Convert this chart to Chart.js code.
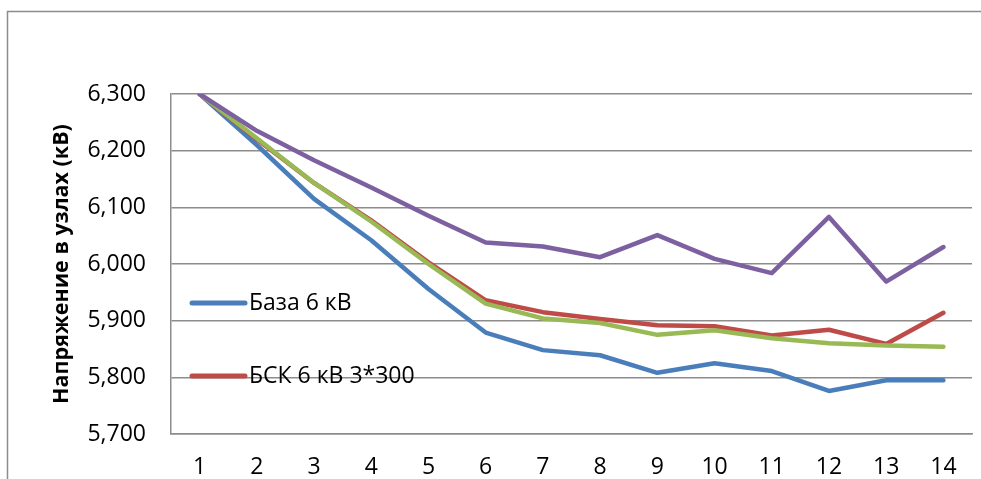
<!DOCTYPE html>
<html>
<head>
<meta charset="utf-8">
<script src="https://cdn.jsdelivr.net/npm/chart.js@4"></script>
<style>
  html, body { margin: 0; padding: 0; background: #fff; }
  #wrap { width: 981px; height: 479px; position: relative; }
</style>
</head>
<body>
<div id="wrap"><canvas id="chart"></canvas></div>
<script>
const nodes = ['1', '2', '3', '4', '5', '6', '7', '8', '9', '10', '11', '12', '13', '14'];

const baseVals = [6300, 6210, 6115, 6042, 5956, 5879, 5848, 5839, 5808, 5825, 5811, 5776, 5795, 5795];
const bskVals = [6300, 6220, 6143, 6077, 6003, 5936, 5915, 5903, 5892, 5890, 5874, 5884, 5859, 5914];
const greenVals = [6300, 6222, 6143, 6075, 6000, 5930, 5904, 5896, 5875, 5883, 5869, 5860, 5856, 5854];
const purpleVals = [6300, 6235, 6183, 6135, 6085, 6038, 6031, 6012, 6051, 6009, 5984, 6083, 5969, 6030];

const seriesLabels = ['База 6 кВ', 'БСК 6 кВ 3*300', 'Серия 3', 'Серия 4'];
const seriesColors = ['#4a7ebb', '#be4b48', '#98b954', '#7d60a0'];

const yTitle = 'Напряжение в узлах (кВ)';
const fontFamily = '"Open Sans", "DejaVu Sans", sans-serif';

// frame around the whole chart (cut off at right and bottom in the picture)
const framePlugin = {
  id: 'frame',
  beforeDraw(chart) {
    const ctx = chart.ctx;
    ctx.save();
    ctx.strokeStyle = '#8c8c8c';
    ctx.lineWidth = 1.5;
    ctx.beginPath();
    ctx.moveTo(7.5, chart.height + 2);
    ctx.lineTo(7.5, 11.5);
    ctx.lineTo(chart.width + 2, 11.5);
    ctx.stroke();
    ctx.restore();
  }
};

// legend sits inside the plot, only the first two entries are visible
const legendPlugin = {
  id: 'innerLegend',
  afterDraw(chart) {
    const ctx = chart.ctx;
    const rows = [303, 376];
    ctx.save();
    ctx.font = '23px ' + fontFamily;
    ctx.textBaseline = 'middle';
    rows.forEach((y, i) => {
      const ds = chart.data.datasets[i];
      ctx.strokeStyle = ds.borderColor;
      ctx.lineWidth = 5;
      ctx.lineCap = 'round';
      ctx.beginPath();
      ctx.moveTo(192, y);
      ctx.lineTo(245, y);
      ctx.stroke();
      ctx.fillStyle = '#000';
      ctx.fillText(ds.label, 249, y);
    });
    ctx.restore();
  }
};

const allVals = [baseVals, bskVals, greenVals, purpleVals];

new Chart(document.getElementById('chart'), {
  type: 'line',
  data: {
    labels: nodes,
    datasets: allVals.map((d, i) => ({
      label: seriesLabels[i],
      data: d,
      borderColor: seriesColors[i],
      backgroundColor: seriesColors[i],
      borderWidth: 4.5,
      pointRadius: 0,
      tension: 0,
      fill: false,
      borderCapStyle: 'round',
      borderJoinStyle: 'round',
      order: 4 - i,
    })),
  },
  options: {
    responsive: true,
    maintainAspectRatio: false,
    animation: false,
    layout: { padding: { top: 94, right: 9, left: 0, bottom: 0 } },
    plugins: {
      legend: { display: false },
      tooltip: { enabled: false },
    },
    scales: {
      x: {
        offset: true,
        grid: { display: false, drawTicks: false, offset: true },
        border: { display: true, color: '#8c8c8c', width: 1.5 },
        ticks: {
          color: '#000',
          font: { family: fontFamily, size: 23 },
          padding: 20,
          maxRotation: 0,
        },
        afterFit(scale) { scale.height = 45; },
      },
      y: {
        min: 5700,
        max: 6300,
        grid: { color: '#8c8c8c', lineWidth: 1.5, drawTicks: false },
        border: { display: true, color: '#8c8c8c', width: 1.5 },
        ticks: {
          stepSize: 100,
          color: '#000',
          font: { family: fontFamily, size: 23 },
          padding: 25,
          callback: (v) => v.toLocaleString('en-US'),
        },
        title: {
          display: true,
          text: yTitle,
          color: '#000',
          font: { family: fontFamily, size: 21.5, weight: 'bold' },
          padding: { top: 49, bottom: 0 },
        },
        afterFit(scale) { scale.width = 171; },
      },
    },
  },
  plugins: [framePlugin, legendPlugin],
});
</script>
</body>
</html>
